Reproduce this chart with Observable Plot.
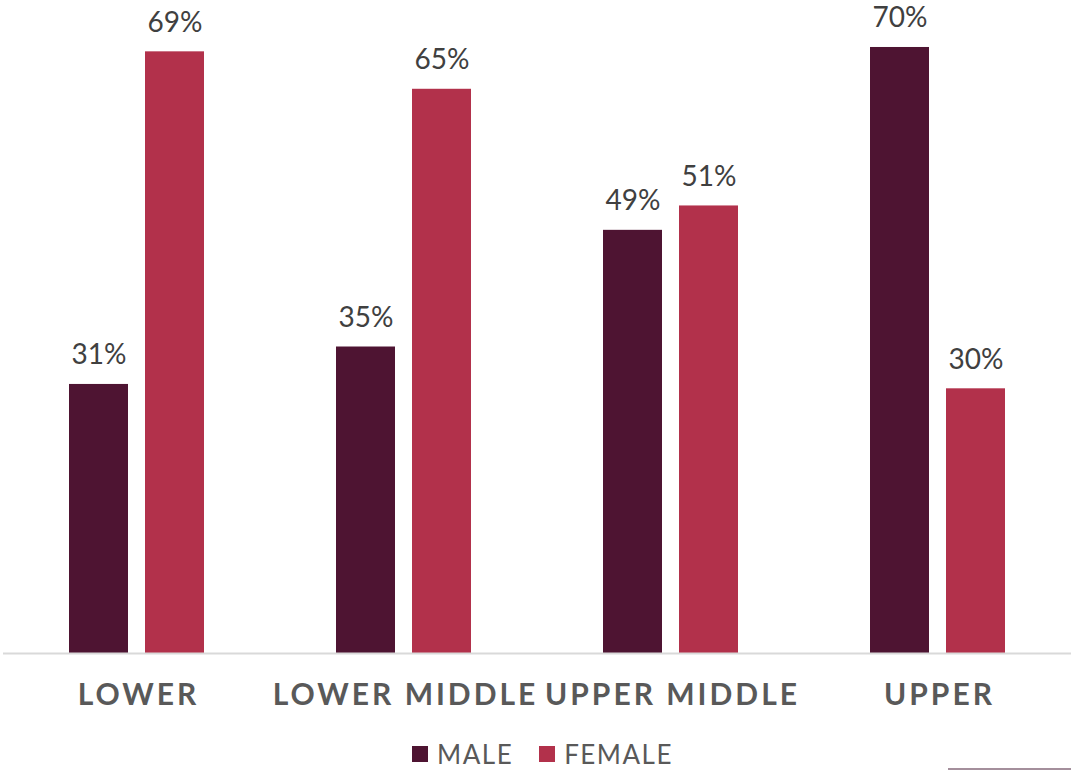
<!DOCTYPE html>
<html>
<head>
<meta charset="utf-8">
<script src="https://cdn.jsdelivr.net/npm/d3@7"></script>
<script src="https://cdn.jsdelivr.net/npm/@observablehq/plot@0.6"></script>
<style>
  body { margin: 0; background: #fff; font-family: "Lato", "Open Sans", sans-serif; position: relative; width: 1071px; height: 770px; overflow: hidden; }
  #legend { display: flex; justify-content: center; align-items: center; height: 44px; margin-top: 10px; padding-left: 14px; font-size: 26px; color: #595959; letter-spacing: 1.5px; }
  .item { display: flex; align-items: center; margin: 0 13px; }
  .sw { width: 16px; height: 16px; margin-right: 9px; }
  .catlab text { letter-spacing: 3px; }
  #corner { position: absolute; left: 948px; top: 768px; width: 123px; height: 1.5px; background: #a48f9c; }
</style>
</head>
<body>
<div id="chart"></div>
<div id="legend"></div>
<div id="corner"></div>
<script>
const categories = ["LOWER", "LOWER MIDDLE", "UPPER MIDDLE", "UPPER"];
const series = ["MALE", "FEMALE"];
const maleValues = [30.9, 35.2, 48.6, 69.6];
const femaleValues = [69.1, 64.8, 51.4, 30.4];
const colors = ["#4E1432", "#B2314B"];

const data = [];
categories.forEach((c, i) => {
  data.push({category: c, series: "MALE", value: maleValues[i]});
  data.push({category: c, series: "FEMALE", value: femaleValues[i]});
});

const plot = Plot.plot({
  width: 1071,
  height: 722,
  marginTop: 43.5,
  marginBottom: 69,
  marginLeft: 2,
  marginRight: 0,
  style: {fontFamily: "Lato, 'Open Sans', sans-serif", background: "#fff"},
  fx: {domain: categories, padding: 0, label: null},
  x: {domain: series, paddingInner: 0.22, paddingOuter: 0.844, axis: null},
  y: {domain: [0, 70], axis: null},
  color: {domain: series, range: colors},
  marks: [
    Plot.barY(data, {fx: "category", x: "series", y: "value", fill: "series"}),
    Plot.text(data, {fx: "category", x: "series", y: "value", text: d => Math.round(d.value) + "%", dy: -29, fontSize: 28, fill: "#404040"}),
    Plot.ruleY([0], {stroke: "#d9d9d9", strokeWidth: 2}),
    Plot.axisFx({anchor: "bottom", tickSize: 0, tickPadding: 30, fontSize: 30, fontWeight: "bold", fill: "#595959", label: null, dx: 1.5, className: "catlab"})
  ]
});
document.getElementById("chart").appendChild(plot);

const legend = document.getElementById("legend");
series.forEach((s, i) => {
  const item = document.createElement("div");
  item.className = "item";
  const sw = document.createElement("div");
  sw.className = "sw";
  sw.style.background = colors[i];
  const t = document.createElement("span");
  t.textContent = s;
  item.appendChild(sw);
  item.appendChild(t);
  legend.appendChild(item);
});
</script>
</body>
</html>
